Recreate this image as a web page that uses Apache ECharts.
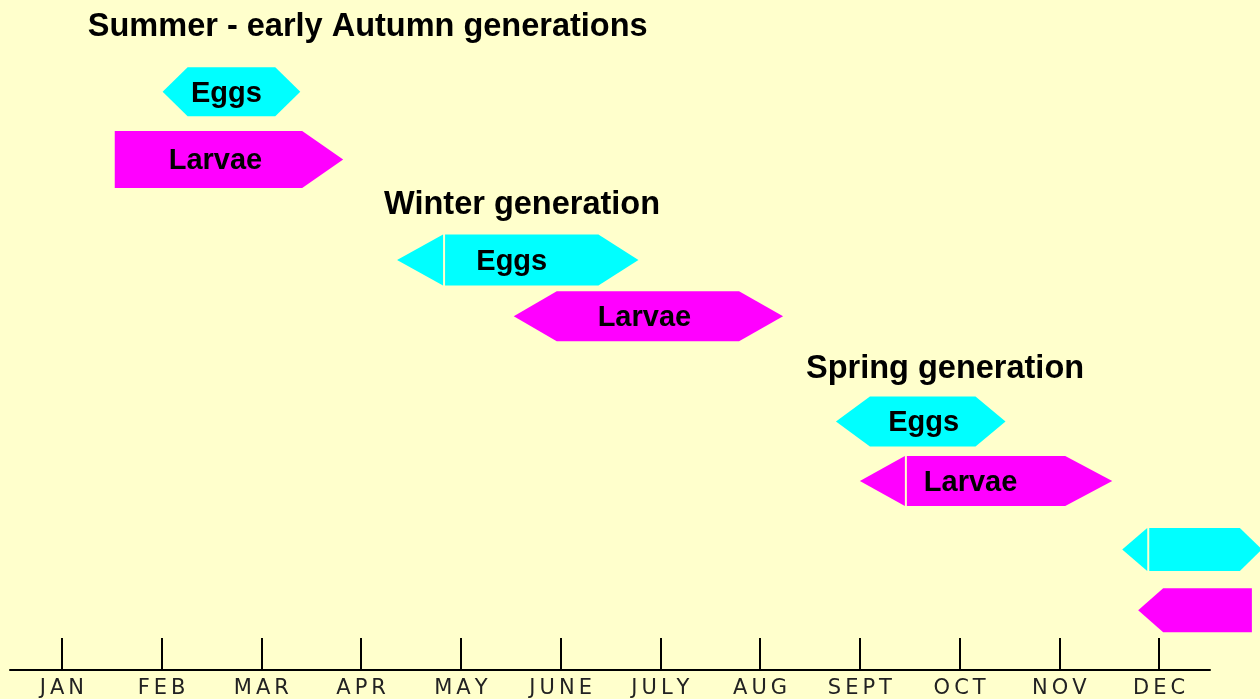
<!DOCTYPE html>
<html>
<head>
<meta charset="utf-8">
<title>Generations</title>
<script src="https://cdn.jsdelivr.net/npm/echarts@6/dist/echarts.min.js"></script>
<style>
  html, body { margin: 0; padding: 0; background: #FFFFCC; }
  #main { width: 1260px; height: 699px; }
</style>
</head>
<body>
<div id="main"></div>
<script>
// months on the time axis (value 1 = JAN ... 12 = DEC)
var months = ['JAN', 'FEB', 'MAR', 'APR', 'MAY', 'JUNE', 'JULY', 'AUG', 'SEPT', 'OCT', 'NOV', 'DEC'];
var monthTicks = [1, 2, 3, 4, 5, 6, 7, 8, 9, 10, 11, 12];

// stage bars: where each arrow starts / ends (in months) and its row
var stages     = ['Eggs', 'Larvae', 'Eggs', 'Larvae', 'Eggs', 'Larvae', 'Eggs', 'Larvae'];
var stageText  = ['Eggs', 'Larvae', 'Eggs', 'Larvae', 'Eggs', 'Larvae', '', ''];
var startMonth = [2.01, 1.53, 4.36, 5.53, 8.76, 9.00, 11.63, 11.79];
var endMonth   = [3.39, 3.82, 6.78, 8.23, 10.46, 11.53, 13.03, 12.93];
var textMonth  = [2.65, 2.54, 5.51, 6.84, 9.64, 10.11, 0, 0];
var rowLevel   = [13.7, 23.8, 38.8, 47.2, 62.9, 71.8, 82.0, 91.1];
var leftEnd    = ['point', 'flat', 'split', 'point', 'point', 'split', 'split', 'point'];
var rightEnd   = ['point', 'point', 'point', 'point', 'point', 'point', 'point', 'flat'];

// generation headings
var titles      = ['Summer - early Autumn generations', 'Winter generation', 'Spring generation'];
var titleMonth  = [1.26, 4.23, 8.46];
var titleLevel  = [4.0, 30.6, 55.1];

// drawing styles (px)
var barHeight = [49, 57, 51, 50, 50, 50, 43, 44];
var headLeft  = [25, 0, 46, 43, 34, 45, 25, 25];
var headRight = [25, 41, 40, 44, 30, 47, 22, 0];
var colors = { Eggs: '#00FFFF', Larvae: '#FF00FF' };

var myChart = echarts.init(document.getElementById('main'));

function renderStage(params, api) {
    var i = params.dataIndex;
    var p0 = api.coord([api.value(0), api.value(2)]);
    var p1 = api.coord([api.value(1), api.value(2)]);
    var cy = p0[1];
    var top = cy - barHeight[i] / 2;
    var bot = cy + barHeight[i] / 2;
    var L = p0[0], R = p1[0];
    var bl = L + headLeft[i];
    var br = R - headRight[i];
    var fill = colors[stages[i]];
    var pts = [];
    var children = [];

    // left side of the body
    if (leftEnd[i] === 'flat') {
        pts.push([L, bot], [L, top]);
    } else if (leftEnd[i] === 'point') {
        pts.push([bl, bot], [L, cy], [bl, top]);
    } else {
        // separate arrow head with a thin gap
        children.push({
            type: 'polygon',
            shape: { points: [[L, cy], [bl, top], [bl, bot]] },
            style: { fill: fill }
        });
        pts.push([bl + 2, bot], [bl + 2, top]);
    }
    // right side
    if (rightEnd[i] === 'flat') {
        pts.push([R, top], [R, bot]);
    } else {
        pts.push([br, top], [R, cy], [br, bot]);
    }
    children.push({
        type: 'polygon',
        shape: { points: pts },
        style: { fill: fill }
    });

    if (stageText[i]) {
        var t = api.coord([textMonth[i], api.value(2)]);
        children.push({
            type: 'text',
            x: t[0],
            y: t[1] + 2,
            style: {
                text: stageText[i],
                fill: '#000',
                font: 'bold 29px "Liberation Sans", Arial, sans-serif',
                align: 'center',
                verticalAlign: 'middle'
            }
        });
    }
    return { type: 'group', children: children };
}

function renderTitle(params, api) {
    var p = api.coord([api.value(0), api.value(1)]);
    return {
        type: 'text',
        x: p[0],
        y: p[1],
        style: {
            text: titles[params.dataIndex],
            fill: '#000',
            font: 'bold 32.5px "Liberation Sans", Arial, sans-serif',
            align: 'left',
            verticalAlign: 'middle'
        }
    };
}

var option = {
    backgroundColor: '#FFFFCC',
    animation: false,
    grid: { left: 10, right: 50, top: 0, bottom: 28 },
    xAxis: {
        type: 'value',
        position: 'bottom',
        min: 0.48,
        max: 12.51,
        splitLine: { show: false },
        axisLine: { show: true, onZero: false, lineStyle: { color: '#000', width: 2 } },
        axisTick: {
            show: true,
            inside: true,
            length: 32,
            customValues: monthTicks,
            lineStyle: { color: '#000', width: 2 }
        },
        axisLabel: {
            customValues: monthTicks,
            margin: 8,
            color: '#222',
            fontSize: 21,
            fontFamily: '"DejaVu Sans", sans-serif',
            // widely spaced capitals, one rich segment per letter
            formatter: function (v) {
                return months[Math.round(v) - 1].split('').map(function (c) {
                    return '{m|' + c + '}';
                }).join('');
            },
            rich: {
                m: {
                    color: '#222',
                    fontSize: 21,
                    fontFamily: '"DejaVu Sans", sans-serif',
                    padding: [0, 2, 0, 2]
                }
            }
        }
    },
    yAxis: {
        type: 'value',
        inverse: true,
        min: 0,
        max: 100,
        show: false
    },
    series: [{
        type: 'custom',
        clip: false,
        renderItem: renderStage,
        encode: { x: [0, 1], y: 2 },
        data: stages.map(function (s, i) {
            return [startMonth[i], endMonth[i], rowLevel[i]];
        })
    }, {
        type: 'custom',
        clip: false,
        renderItem: renderTitle,
        encode: { x: 0, y: 1 },
        data: titles.map(function (s, i) {
            return [titleMonth[i], titleLevel[i]];
        })
    }]
};
myChart.setOption(option);
</script>
</body>
</html>
